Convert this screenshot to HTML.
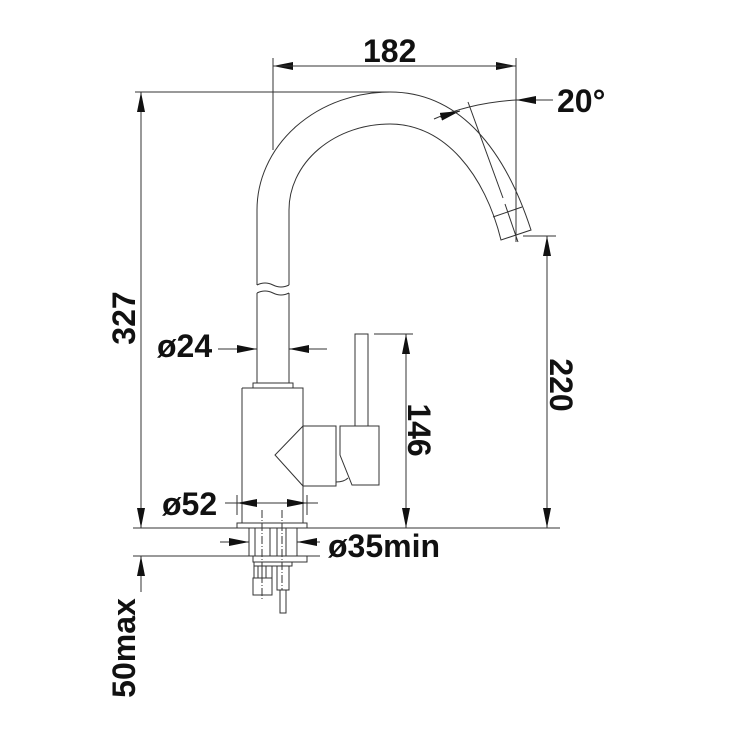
<!DOCTYPE html>
<html><head><meta charset="utf-8"><style>
html,body{margin:0;padding:0;background:#fff;}
svg{display:block;}
text{font-family:"Liberation Sans",Arial,sans-serif;font-weight:bold;fill:#111;font-size:32px;}
</style></head><body>
<svg width="735" height="735" viewBox="0 0 735 735" xmlns="http://www.w3.org/2000/svg">
<defs>
<marker id="a" viewBox="0 0 20 8" refX="20" refY="4" markerWidth="20" markerHeight="8" markerUnits="userSpaceOnUse" orient="auto"><path d="M0,0 L20,4 L0,8 Z" fill="#111"/></marker>
</defs>
<g stroke="#333" stroke-width="1" fill="none">
<!-- 182 dimension -->
<line x1="273" y1="58" x2="273" y2="150"/>
<line x1="516" y1="58" x2="516" y2="242"/>
<line x1="330" y1="66" x2="273" y2="66" marker-end="url(#a)"/>
<line x1="460" y1="66" x2="516" y2="66" marker-end="url(#a)"/>
<line x1="273" y1="66" x2="516" y2="66"/>
<!-- top ref line -->
<line x1="135" y1="92" x2="390" y2="92"/>
<!-- 327 -->
<line x1="141" y1="92" x2="141" y2="528"/>
<line x1="141" y1="150" x2="141" y2="92" marker-end="url(#a)"/>
<line x1="141" y1="480" x2="141" y2="528" marker-end="url(#a)"/>
<!-- 50max -->
<line x1="141" y1="592" x2="141" y2="556" marker-end="url(#a)"/>
<!-- deck lines -->
<line x1="133" y1="528" x2="560" y2="528"/>
<line x1="133" y1="556" x2="320" y2="556"/>
<!-- 220 -->
<line x1="523" y1="236" x2="556" y2="236"/>
<line x1="547" y1="236" x2="547" y2="528"/>
<line x1="547" y1="290" x2="547" y2="236" marker-end="url(#a)"/>
<line x1="547" y1="480" x2="547" y2="528" marker-end="url(#a)"/>
<!-- 146 -->
<line x1="374" y1="334" x2="413" y2="334"/>
<line x1="406" y1="334" x2="406" y2="528"/>
<line x1="406" y1="380" x2="406" y2="334" marker-end="url(#a)"/>
<line x1="406" y1="480" x2="406" y2="528" marker-end="url(#a)"/>
<!-- 20 deg -->
<path d="M434,119 Q470,103 516,100"/>
<line x1="553" y1="100" x2="516" y2="100" marker-end="url(#a)"/>
<path d="M440,117 L460,111" marker-end="url(#a)"/>
<line x1="468" y1="102" x2="503" y2="198"/>
<line x1="505" y1="204" x2="518" y2="242"/>
<!-- spout -->
<path d="M257,285 L257,210 A133,118 0 0 1 390,92 C460,92 505,150 531,230 L501,240 C485,175 445,124 390,124 A101,86 0 0 0 289,210 L289,285"/>
<line x1="493" y1="217" x2="522" y2="207"/>
<path d="M257,285 Q265,281 273,285 T289,285"/>
<path d="M257,293 Q265,289 273,293 T289,293"/>
<path d="M257,293 L257,383 M289,293 L289,383"/>
<!-- ø24 -->
<line x1="218" y1="349" x2="257" y2="349" marker-end="url(#a)"/>
<line x1="327" y1="349" x2="289" y2="349" marker-end="url(#a)"/>
<!-- body -->
<rect x="253" y="383" width="40" height="5"/>
<path d="M242,388 L303,388 L303,426 M303,486 L303,523 M242,388 L242,523"/>
<rect x="237" y="523" width="70" height="5"/>
<rect x="303" y="426" width="33" height="60"/>
<path d="M303,426 L275,455 L303,486"/>
<path d="M340,426 L379,426 L379,485 L352,485 L340,455 Z"/>
<path d="M336,482 Q344,482 348,478"/>
<rect x="355" y="334" width="13" height="92"/>
<!-- ø52 -->
<line x1="237" y1="495" x2="237" y2="515"/>
<line x1="307" y1="495" x2="307" y2="515"/>
<line x1="225" y1="503" x2="318" y2="503"/>
<line x1="260" y1="503" x2="237" y2="503" marker-end="url(#a)"/>
<line x1="284" y1="503" x2="307" y2="503" marker-end="url(#a)"/>
<!-- below deck -->
<rect x="249" y="528" width="48" height="28"/>
<path d="M255,528 V556 M270,528 V556 M277,528 V556 M286,528 V556"/>
<path d="M262,510 V600 M282,510 V590" stroke-dasharray="8,2,1,2"/>
<line x1="220" y1="542" x2="249" y2="542" marker-end="url(#a)"/>
<line x1="320" y1="542" x2="297" y2="542" marker-end="url(#a)"/>
<rect x="253" y="556" width="54" height="6"/>
<rect x="254" y="562" width="38" height="4"/>
<rect x="254" y="566" width="18" height="12"/>
<rect x="253" y="578" width="19" height="17"/>
<path d="M258,566 V578 M262,566 V578 M266,566 V578"/>
<rect x="277" y="566" width="12" height="24"/>
<rect x="280" y="590" width="6" height="23"/>
</g>
<text x="363" y="62">182</text>
<text x="557" y="112">20°</text>
<text x="157" y="357">ø24</text>
<text x="162" y="515">ø52</text>
<text x="328" y="557">ø35min</text>
<text transform="translate(135,318) rotate(-90)" text-anchor="middle">327</text>
<text transform="translate(135,648) rotate(-90)" text-anchor="middle">50max</text>
<text transform="translate(550,385) rotate(90)" text-anchor="middle">220</text>
<text transform="translate(408,430) rotate(90)" text-anchor="middle">146</text>
</svg>
</body></html>
